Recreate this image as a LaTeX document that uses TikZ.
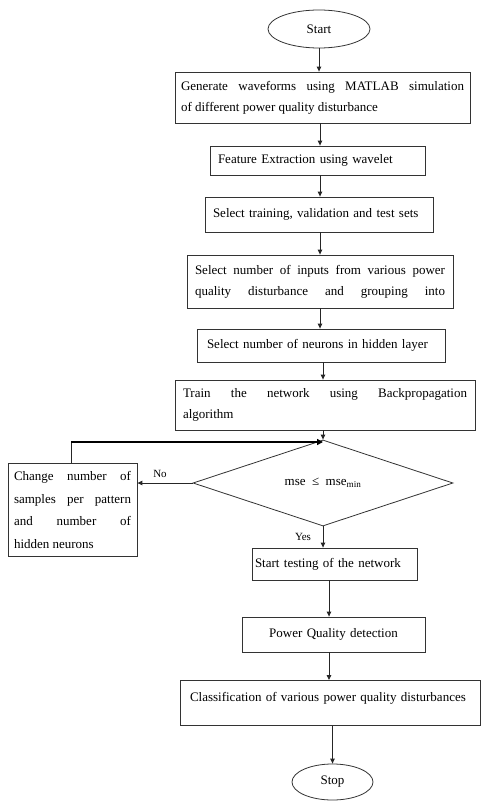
\documentclass[tikz,border=0pt]{standalone}
\usepackage{fontspec}
\setmainfont{Liberation Serif}
\usetikzlibrary{shapes.geometric,arrows.meta}
\begin{document}
\begin{tikzpicture}[x=1pt,y=-1pt,
  every node/.style={font=\fontsize{13}{21}\selectfont, text=black},
  box/.style={draw=black!80, line width=0.8pt, inner xsep=8pt, inner ysep=0pt, align=justify},
  term/.style={draw=black!80, line width=0.8pt, ellipse, inner sep=0pt},
  dec/.style={draw=black!80, line width=0.8pt, diamond, inner sep=0pt},
  arr/.style={draw=black!85, line width=0.9pt, -{Triangle[length=5pt,width=4.5pt]}},
  ln/.style={draw=black!85, line width=0.9pt},
  thk/.style={draw=black, line width=2.2pt, -{Triangle[length=6pt,width=6pt]}},
  lab/.style={font=\fontsize{11}{13}\selectfont, inner sep=0pt}
]
\fill[white] (0,0) rectangle (483,802);
\useasboundingbox (0,0) rectangle (483,802);

\node[term, minimum width=102pt, minimum height=38pt] (start) at (319,29) {Start};
\node[box, minimum width=295pt, minimum height=51pt, text width=283pt, inner xsep=6pt] (b1) at (322.5,97.5)
  {Generate waveforms using MATLAB simulation\linebreak of different power quality disturbance};
\node[box, minimum width=215pt, minimum height=29pt, text width=199pt, align=left] (b2) at (317.5,160.5)
  {Feature Extraction using wavelet};
\node[box, minimum width=228pt, minimum height=35pt, text width=212pt, align=left] (b3) at (319,214.5)
  {Select training, validation and test sets};
\node[box, minimum width=266pt, minimum height=53pt, text width=250pt] (b4) at (320,281.5)
  {Select number of inputs from various power\linebreak \makebox[250pt][s]{quality disturbance and grouping into}};
\node[box, minimum width=248pt, minimum height=33pt, text width=228pt, inner xsep=10pt, align=left] (b5) at (321,345.5)
  {Select number of neurons in hidden layer};
\node[box, minimum width=300pt, minimum height=50pt, text width=284pt] (b6) at (325,405)
  {Train the network using Backpropagation\linebreak algorithm};
\node[dec, minimum width=260pt, minimum height=58pt] (d) at (323,483)
  {mse\enspace ≤\enspace mse\textsubscript{min}};
\node[box, minimum width=129pt, minimum height=93pt, text width=117pt, inner xsep=6pt,
      font=\fontsize{13}{22.5}\selectfont] (lb) at (72.5,510)
  {Change number of\linebreak samples per pattern\linebreak and number of\linebreak hidden neurons};
\node[box, minimum width=165pt, minimum height=32pt, text width=159pt, inner xsep=3pt, align=left] (b7) at (334.5,564)
  {Start testing of the network};
\node[box, minimum width=183pt, minimum height=35pt, text width=153pt, inner xsep=15pt, align=center] (b8) at (333.5,634.5)
  {Power Quality detection};
\node[box, anchor=north, minimum width=300pt, text width=280pt, inner xsep=10pt, inner ysep=4pt,
      text height=17pt, text depth=20pt, align=left] (b9) at (330,680)
  {Classification of various power quality disturbances};
\node[term, minimum width=81pt, minimum height=36pt] (stop) at (332.5,782) {Stop};

\node[lab] (no) at (160,474) {No};
\node[lab] (yes) at (303,537) {Yes};

\coordinate (c1) at (320,0);
\coordinate (c2) at (329,0);
\coordinate (lc) at (71,442);

\draw[arr] (start.south) -- (start.south |- b1.north);
\draw[arr] (b1.south -| c1) -- (b2.north -| c1);
\draw[arr] (b2.south -| c1) -- (b3.north -| c1);
\draw[arr] (b3.south -| c1) -- (b4.north -| c1);
\draw[arr] (b4.south -| c1) -- (b5.north -| c1);
\draw[arr] (b5.south -| d) -- (b6.north -| d);
\draw[arr] (b6.south -| d) -- (d.north);
\draw[ln] (lb.north -| lc) -- (lc);
\draw[thk] (lc) -- (lc -| d);
\draw[arr] (d.west) -- (d.west -| lb.east);
\draw[arr] (d.south) -- (d.south |- b7.north);
\draw[arr] (b7.south -| c2) -- (b8.north -| c2);
\draw[arr] (b8.south -| c2) -- (b9.north -| c2);
\draw[arr] (b9.south -| stop) -- (stop.north);
\end{tikzpicture}
\end{document}
